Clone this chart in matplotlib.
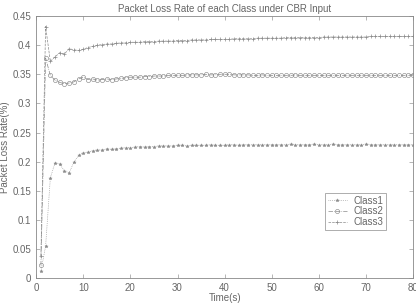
import matplotlib
matplotlib.use("Agg")
import matplotlib.pyplot as plt
import numpy as np

# time axis (s)
t = np.arange(1, 81)

class1 = [0.012, 0.055, 0.172, 0.198, 0.196, 0.184, 0.181, 0.199, 0.211, 0.215,
          0.216, 0.219, 0.220, 0.220, 0.222, 0.221, 0.222, 0.223, 0.224, 0.224,
          0.225, 0.226, 0.225, 0.226, 0.226, 0.227, 0.227, 0.227, 0.227, 0.228,
          0.228, 0.227, 0.228, 0.228, 0.228, 0.228, 0.229, 0.228, 0.228, 0.228,
          0.229, 0.229, 0.228, 0.229, 0.229, 0.229, 0.229, 0.229, 0.229, 0.229,
          0.229, 0.229, 0.229, 0.230, 0.229, 0.229, 0.229, 0.229, 0.230, 0.229,
          0.229, 0.229, 0.230, 0.229, 0.229, 0.229, 0.229, 0.229, 0.229, 0.230,
          0.229, 0.229, 0.229, 0.229, 0.229, 0.229, 0.229, 0.229, 0.229, 0.229]

class2 = [0.022, 0.378, 0.348, 0.340, 0.336, 0.334, 0.335, 0.337, 0.342, 0.345,
          0.341, 0.342, 0.340, 0.341, 0.342, 0.341, 0.342, 0.343, 0.344, 0.345,
          0.345, 0.345, 0.346, 0.346, 0.347, 0.347, 0.347, 0.348, 0.348, 0.348,
          0.348, 0.349, 0.349, 0.349, 0.349, 0.350, 0.349, 0.349, 0.350, 0.350,
          0.350, 0.349, 0.349, 0.349, 0.349, 0.348, 0.348, 0.349, 0.348, 0.348,
          0.348, 0.348, 0.348, 0.348, 0.349, 0.348, 0.348, 0.348, 0.348, 0.348,
          0.348, 0.348, 0.348, 0.348, 0.348, 0.348, 0.348, 0.348, 0.348, 0.348,
          0.348, 0.348, 0.348, 0.348, 0.348, 0.348, 0.348, 0.348, 0.348, 0.348]

class3 = [0.038, 0.432, 0.372, 0.380, 0.387, 0.385, 0.394, 0.392, 0.391, 0.393,
          0.396, 0.398, 0.400, 0.401, 0.402, 0.402, 0.403, 0.404, 0.404, 0.405,
          0.405, 0.405, 0.406, 0.406, 0.406, 0.407, 0.407, 0.407, 0.407, 0.408,
          0.408, 0.408, 0.409, 0.409, 0.409, 0.409, 0.410, 0.410, 0.410, 0.410,
          0.410, 0.411, 0.411, 0.411, 0.411, 0.411, 0.412, 0.412, 0.412, 0.412,
          0.412, 0.412, 0.413, 0.413, 0.413, 0.413, 0.413, 0.413, 0.413, 0.413,
          0.414, 0.414, 0.414, 0.414, 0.414, 0.414, 0.414, 0.414, 0.414, 0.414,
          0.415, 0.415, 0.415, 0.415, 0.415, 0.415, 0.415, 0.415, 0.415, 0.415]

plt.rcParams['font.family'] = ['Liberation Sans', 'DejaVu Sans']
grey = '#8a8a8a'
txt = '#666666'

fig = plt.figure(figsize=(4.16, 3.03), dpi=100)
ax = fig.add_axes([0.087, 0.082, 0.906, 0.865])

ax.plot(t, class1, linestyle=':', marker='*', markersize=2.5, linewidth=0.5,
        color=grey, markeredgewidth=0.3, label="Class1")
ax.plot(t, class2, linestyle='-.', marker='o', markersize=3, linewidth=0.5,
        color=grey, markerfacecolor='none', markeredgewidth=0.45, label="Class2")
ax.plot(t, class3, linestyle='--', marker='+', markersize=3.5, linewidth=0.5,
        color=grey, markeredgewidth=0.5, label="Class3")

ax.set_xlim(0, 80)
ax.set_ylim(0, 0.45)
ax.set_xticks(np.arange(0, 81, 10))
ax.set_yticks(np.arange(0, 0.451, 0.05))
ax.set_yticklabels(['0', '0.05', '0.1', '0.15', '0.2', '0.25', '0.3', '0.35', '0.4', '0.45'])
ax.tick_params(direction='in', top=True, right=True, labelsize=7, colors=txt,
               length=3, width=0.5, color='#999999')
for s in ax.spines.values():
    s.set_color('#888888')
    s.set_linewidth(0.6)

ax.set_xlabel("Time(s)", fontsize=7, color=txt, labelpad=0)
ax.set_ylabel("Packet Loss Rate(%)", fontsize=7, color=txt, labelpad=2)
ax.set_title("Packet Loss Rate of each Class under CBR Input", fontsize=7,
             color=txt, pad=3)

leg = ax.legend(loc='upper left', bbox_to_anchor=(0.753, 0.345), fontsize=7,
                frameon=True, fancybox=False, borderpad=0.3, labelspacing=0.1,
                handlelength=2.0, handletextpad=0.6)
leg.get_frame().set_edgecolor('#888888')
leg.get_frame().set_linewidth(0.6)
for text in leg.get_texts():
    text.set_color(txt)

fig.savefig("out.png", dpi=100)
